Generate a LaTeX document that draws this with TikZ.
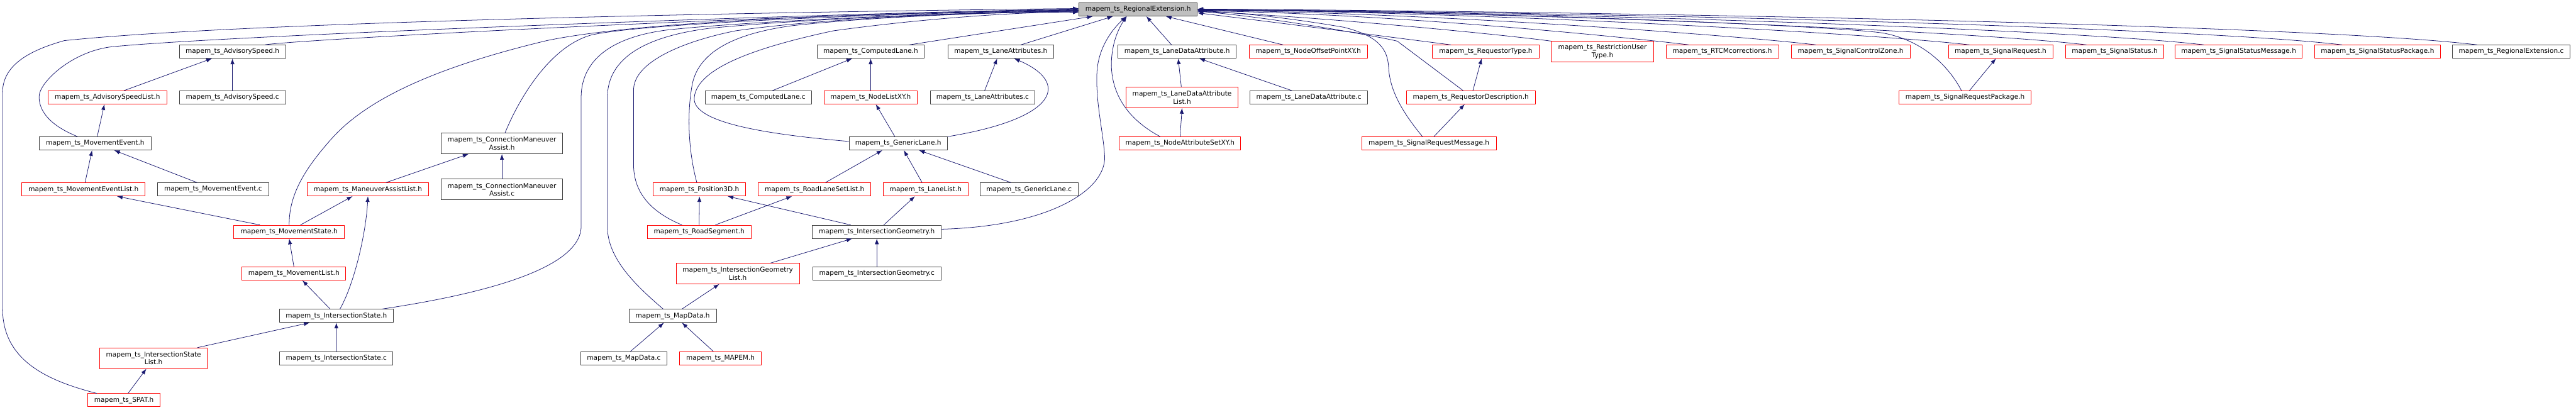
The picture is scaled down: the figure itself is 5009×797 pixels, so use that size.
\documentclass[tikz,border=0pt]{standalone}
\usepackage{fontspec}
\setmainfont{DejaVu Sans}
\usetikzlibrary{arrows.meta}
\definecolor{edgeblue}{HTML}{191970}
\definecolor{boxgray}{HTML}{BFBFBF}
\definecolor{boxline}{HTML}{404040}

\begin{document}
\begin{tikzpicture}[x=1pt,y=-1pt,>={Latex[length=11pt,width=8pt]},
    file/.style={draw=boxline,line width=1.1pt,inner sep=0pt,minimum height=25.5pt,align=center,font=\fontsize{12.9}{15}\selectfont},
    trunc/.style={file,draw=red},
    root/.style={file,fill=boxgray},
    twoline/.style={minimum height=40pt},
    dep/.style={->,draw=edgeblue,line width=0.95pt}]
    \useasboundingbox (0,0) rectangle (5009,797);

    % row 0
    \node[root,minimum width=230pt] (re) at (2213,18.5) {mapem\_ts\_RegionalExtension.h};
    % row 1
    \node[file,minimum width=207pt] (advSpeed) at (452,100.5) {mapem\_ts\_AdvisorySpeed.h};
    \node[file,minimum width=208pt] (computedLane) at (1693,100.5) {mapem\_ts\_ComputedLane.h};
    \node[file,minimum width=206pt] (laneAttr) at (1946,100.5) {mapem\_ts\_LaneAttributes.h};
    \node[file,minimum width=230pt] (laneDataAttr) at (2289,100.5) {mapem\_ts\_LaneDataAttribute.h};
    \node[trunc,minimum width=230pt] (nodeOffset) at (2544,100.5) {mapem\_ts\_NodeOffsetPointXY.h};
    \node[trunc,minimum width=207pt] (reqType) at (2889,100.5) {mapem\_ts\_RequestorType.h};
    \node[trunc,twoline,minimum width=199pt] (restrUser) at (3116,100.5) {mapem\_ts\_RestrictionUser\\Type.h};
    \node[trunc,minimum width=219pt] (rtcm) at (3349,100.5) {mapem\_ts\_RTCMcorrections.h};
    \node[trunc,minimum width=231pt] (sigCtrlZone) at (3598.5,100.5) {mapem\_ts\_SignalControlZone.h};
    \node[trunc,minimum width=203pt] (sigReq) at (3890,100.5) {mapem\_ts\_SignalRequest.h};
    \node[trunc,minimum width=190pt] (sigStatus) at (4112,100.5) {mapem\_ts\_SignalStatus.h};
    \node[trunc,minimum width=247pt] (sigStatusMsg) at (4353,100.5) {mapem\_ts\_SignalStatusMessage.h};
    \node[trunc,minimum width=244pt] (sigStatusPkg) at (4623,100.5) {mapem\_ts\_SignalStatusPackage.h};
    \node[file,minimum width=228pt] (reC) at (4883,100.5) {mapem\_ts\_RegionalExtension.c};
    % row 2
    \node[trunc,minimum width=231pt] (advSpeedList) at (209,189.5) {mapem\_ts\_AdvisorySpeedList.h};
    \node[file,minimum width=207pt] (advSpeedC) at (452,189.5) {mapem\_ts\_AdvisorySpeed.c};
    \node[file,minimum width=207pt] (computedLaneC) at (1474.5,189.5) {mapem\_ts\_ComputedLane.c};
    \node[trunc,minimum width=182pt] (nodeListXY) at (1693,189.5) {mapem\_ts\_NodeListXY.h};
    \node[file,minimum width=204pt] (laneAttrC) at (1910.6,189.5) {mapem\_ts\_LaneAttributes.c};
    \node[trunc,twoline,minimum width=218pt] (laneDataAttrList) at (2298.5,189.5) {mapem\_ts\_LaneDataAttribute\\List.h};
    \node[file,minimum width=229pt] (laneDataAttrC) at (2545,189.5) {mapem\_ts\_LaneDataAttribute.c};
    \node[trunc,minimum width=251pt] (reqDesc) at (2860,189.5) {mapem\_ts\_RequestorDescription.h};
    \node[trunc,minimum width=256pt] (sigReqPkg) at (3821,189.5) {mapem\_ts\_SignalRequestPackage.h};
    % row 3
    \node[file,minimum width=217pt] (movEvent) at (185,279) {mapem\_ts\_MovementEvent.h};
    \node[file,twoline,minimum width=236pt] (cmaH) at (976,279) {mapem\_ts\_ConnectionManeuver\\Assist.h};
    \node[file,minimum width=191pt] (genericLane) at (1746.5,279) {mapem\_ts\_GenericLane.h};
    \node[trunc,minimum width=236pt] (nodeAttrSet) at (2294.6,279) {mapem\_ts\_NodeAttributeSetXY.h};
    \node[trunc,minimum width=262pt] (sigReqMsg) at (2778.6,279) {mapem\_ts\_SignalRequestMessage.h};
    % row 4
    \node[trunc,minimum width=240pt] (movEventList) at (162.4,368.4) {mapem\_ts\_MovementEventList.h};
    \node[file,minimum width=216pt] (movEventC) at (414.4,368.4) {mapem\_ts\_MovementEvent.c};
    \node[trunc,minimum width=237pt] (manAssistList) at (715.4,368.4) {mapem\_ts\_ManeuverAssistList.h};
    \node[file,twoline,minimum width=236pt] (cmaC) at (976,368.4) {mapem\_ts\_ConnectionManeuver\\Assist.c};
    \node[trunc,minimum width=180pt] (position3D) at (1360,368.4) {mapem\_ts\_Position3D.h};
    \node[trunc,minimum width=219pt] (roadLaneSetList) at (1584,368.4) {mapem\_ts\_RoadLaneSetList.h};
    \node[trunc,minimum width=165pt] (laneList) at (1800,368.4) {mapem\_ts\_LaneList.h};
    \node[file,minimum width=191pt] (genericLaneC) at (2001,368.4) {mapem\_ts\_GenericLane.c};
    % row 5
    \node[trunc,minimum width=215pt] (movState) at (562.3,450.7) {mapem\_ts\_MovementState.h};
    \node[trunc,minimum width=202pt] (roadSegment) at (1359.5,450.7) {mapem\_ts\_RoadSegment.h};
    \node[file,minimum width=251pt] (interGeom) at (1705,450.7) {mapem\_ts\_IntersectionGeometry.h};
    % row 6
    \node[trunc,minimum width=202pt] (movList) at (571.5,532) {mapem\_ts\_MovementList.h};
    \node[trunc,twoline,minimum width=240pt] (interGeomList) at (1434.6,532) {mapem\_ts\_IntersectionGeometry\\List.h};
    \node[file,minimum width=250pt] (interGeomC) at (1705,532) {mapem\_ts\_IntersectionGeometry.c};
    % row 7
    \node[file,minimum width=221pt] (interState) at (654,614.3) {mapem\_ts\_IntersectionState.h};
    \node[file,minimum width=170pt] (mapData) at (1308,614.3) {mapem\_ts\_MapData.h};
    % row 8
    \node[trunc,twoline,minimum width=209pt] (interStateList) at (298.6,696.6) {mapem\_ts\_IntersectionState\\List.h};
    \node[file,minimum width=220pt] (interStateC) at (654,696.6) {mapem\_ts\_IntersectionState.c};
    \node[file,minimum width=168pt] (mapDataC) at (1213,696.6) {mapem\_ts\_MapData.c};
    \node[trunc,minimum width=159pt] (mapem) at (1401,696.6) {mapem\_ts\_MAPEM.h};
    % row 9
    \node[trunc,minimum width=140pt] (spat) at (241,778.2) {mapem\_ts\_SPAT.h};

    % into the header from the left
    \draw[dep] ([xshift=-53pt]spat.north) .. controls (90,740) and (5,700) .. (5,600) -- (5,180)
        .. controls (5,130) and (50,100) .. (125,79) .. controls (500,40) and (1600,22) .. ([yshift=2pt]re.west);
    \draw[dep] ([xshift=-34pt]movEvent.north) .. controls (95,243) and (76,215) .. (76,188)
        .. controls (76,160) and (140,100) .. (217,91) .. controls (450,68) and (1600,26) .. ([yshift=1pt]re.west);
    \draw[dep] ([xshift=63pt]advSpeed.north) .. controls (560,78) and (1500,28) .. (re.west);
    \draw[dep] (movState.north) .. controls (562,380) and (590,330) .. (650,264)
        .. controls (720,190) and (850,130) .. (1063,79) .. controls (1250,40) and (1700,25) .. ([yshift=-1pt]re.west);
    \draw[dep] ([xshift=6pt]cmaH.north) .. controls (1010,190) and (1070,90) .. (1150,68)
        .. controls (1250,45) and (1750,25) .. ([yshift=-1.5pt]re.west);
    \draw[dep] ([xshift=88.5pt]interState.north) .. controls (950,570) and (1130,520) .. (1130,440) -- (1130,190)
        .. controls (1130,110) and (1200,70) .. (1300,58) .. controls (1450,42) and (1800,26) .. ([yshift=-2pt]re.west);
    \draw[dep] ([xshift=-18.4pt]mapData.north) .. controls (1230,550) and (1181,500) .. (1181,440) -- (1181,190)
        .. controls (1181,110) and (1260,70) .. (1380,55) .. controls (1550,38) and (1850,25) .. ([yshift=-3pt]re.west);
    \draw[dep] ([xshift=-33.5pt]roadSegment.north) .. controls (1260,410) and (1232,370) .. (1232,320) -- (1232,175)
        .. controls (1232,120) and (1330,80) .. (1430,60) .. controls (1600,35) and (1900,24) .. ([yshift=-3.5pt]re.west);
    \draw[dep] ([xshift=-5pt]position3D.north) .. controls (1340,300) and (1335,230) .. (1345,170)
        .. controls (1355,100) and (1430,65) .. (1540,50) .. controls (1700,32) and (1950,23) .. ([yshift=-4.5pt]re.west);
    \draw[dep] ([yshift=4pt]genericLane.west) .. controls (1500,262) and (1345,240) .. (1350,190)
        .. controls (1355,130) and (1480,90) .. (1620,60) .. controls (1800,35) and (2000,22) .. ([yshift=-5.5pt]re.west);

    % into the header from below
    \draw[dep] ([xshift=75pt]computedLane.north) -- ([xshift=-88pt]re.south);
    \draw[dep] ([xshift=39pt]laneAttr.north) -- ([xshift=-49pt]re.south);
    \draw[dep] ([yshift=5pt]interGeom.east) .. controls (2040,440) and (2150,370) .. (2148,305)
        .. controls (2146,260) and (2130,200) .. (2133,140) .. controls (2136,90) and (2165,55) .. ([xshift=-23pt]re.south);
    \draw[dep] ([xshift=-38.6pt]nodeAttrSet.north) .. controls (2180,225) and (2162,170) .. (2161,127)
        .. controls (2161,85) and (2175,55) .. ([xshift=-22pt]re.south);
    \draw[dep] ([xshift=-11pt]laneDataAttr.north) -- ([xshift=16pt]re.south);
    \draw[dep] ([xshift=-49pt]nodeOffset.north) -- ([xshift=54pt]re.south);

    % into the header from the right
    \draw[dep] ([xshift=-68pt]reqType.north) .. controls (2790,83) and (2500,46) .. ([yshift=-6.5pt]re.east);
    \draw[dep] ([xshift=-15pt]reqDesc.north) -- (2717,80) .. controls (2680,71) and (2470,33) .. ([yshift=-3.5pt]re.east);
    \draw[dep] ([xshift=-12.6pt]sigReqMsg.north) .. controls (2720,210) and (2702,170) .. (2700,130)
        .. controls (2698,95) and (2680,70) .. (2613,53) .. controls (2520,37) and (2420,25) .. ([yshift=-2.5pt]re.east);
    \draw[dep] (restrUser.north west) .. controls (2930,68) and (2560,32) .. ([yshift=-3.5pt]re.east);
    \draw[dep] ([xshift=-65pt]rtcm.north) .. controls (3169,73) and (2701,26) .. ([yshift=-2.5pt]re.east);
    \draw[dep] ([xshift=-67.5pt]sigCtrlZone.north) .. controls (3387,70) and (2797,25) .. ([yshift=-1.5pt]re.east);
    \draw[dep] ([xshift=-60.5pt]sigReq.north) .. controls (3649,66) and (2913,24) .. ([yshift=-0.5pt]re.east);
    \draw[dep] ([xshift=-7pt]sigReqPkg.north) .. controls (3790,130) and (3740,78) .. (3660,64)
        .. controls (3560,50) and (2900,22) .. ([yshift=-1pt]re.east);
    \draw[dep] ([xshift=-55pt]sigStatus.north) .. controls (3850,62) and (3002,24) .. ([yshift=-0.5pt]re.east);
    \draw[dep] ([xshift=-67.5pt]sigStatusMsg.north) .. controls (4050,59) and (3091,24) .. (re.east);
    \draw[dep] ([xshift=-69pt]sigStatusPkg.north) .. controls (4287,55) and (3196,24) .. (re.east);
    \draw[dep] ([xshift=-66pt]reC.north) .. controls (4518,51) and (3299,24) .. ([yshift=1pt]re.east);

    % the other includes
    \draw[dep] ([xshift=32pt]advSpeedList.north) -- ([xshift=-40pt]advSpeed.south);
    \draw[dep] (advSpeedC.north) -- (advSpeed.south);
    \draw[dep] ([xshift=4pt]movEvent.north) -- ([xshift=-6pt]advSpeedList.south);
    \draw[dep] ([xshift=3pt]movEventList.north) -- ([xshift=-6pt]movEvent.south);
    \draw[dep] ([xshift=-31pt]movEventC.north) -- ([xshift=37pt]movEvent.south);
    \draw[dep] ([xshift=-57pt]movState.north) -- ([xshift=65pt]movEventList.south);
    \draw[dep] ([xshift=22pt]movState.north) -- ([xshift=-30pt]manAssistList.south);
    \draw[dep] (movList.north) -- (movState.south);
    \draw[dep] ([xshift=-12pt]interState.north) -- ([xshift=16.5pt]movList.south);
    \draw[dep] ([xshift=7pt]interState.north) .. controls (690,550) and (712,450) .. (manAssistList.south);
    \draw[dep] ([xshift=85pt]interStateList.north) -- ([xshift=-52pt]interState.south);
    \draw[dep] (interStateC.north) -- (interState.south);
    \draw[dep] ([xshift=8pt]spat.north) -- ([xshift=-14pt]interStateList.south);
    \draw[dep] ([xshift=35pt]manAssistList.north) -- ([xshift=-65pt]cmaH.south);
    \draw[dep] (cmaC.north) -- (cmaH.south);
    \draw[dep] ([xshift=27.5pt]computedLaneC.north) -- ([xshift=-36pt]computedLane.south);
    \draw[dep] (nodeListXY.north) -- (computedLane.south);
    \draw[dep] ([xshift=4pt]laneAttrC.north) -- ([xshift=-7pt]laneAttr.south);
    \draw[dep] ([xshift=-6.5pt]genericLane.north) -- ([xshift=10pt]nodeListXY.south);
    \draw[dep] (genericLane.north east) .. controls (2060,230) and (2080,160) .. ([xshift=26pt]laneAttr.south);
    \draw[dep] ([xshift=21pt]roadLaneSetList.north) -- ([xshift=-31pt]genericLane.south);
    \draw[dep] ([xshift=-7pt]laneList.north) -- ([xshift=11pt]genericLane.south);
    \draw[dep] ([xshift=-35pt]genericLaneC.north) -- ([xshift=40.5pt]genericLane.south);
    \draw[dep] (roadSegment.north) -- (position3D.south);
    \draw[dep] ([xshift=31.5pt]roadSegment.north) -- ([xshift=-44pt]roadLaneSetList.south);
    \draw[dep] ([xshift=-51pt]interGeom.north) -- ([xshift=55pt]position3D.south);
    \draw[dep] ([xshift=13.5pt]interGeom.north) -- ([xshift=-21pt]laneList.south);
    \draw[dep] ([xshift=64pt]interGeomList.north) -- ([xshift=-48pt]interGeom.south);
    \draw[dep] (interGeomC.north) -- (interGeom.south);
    \draw[dep] ([xshift=18pt]mapData.north) -- ([xshift=-36pt]interGeomList.south);
    \draw[dep] ([xshift=13pt]mapDataC.north) -- ([xshift=-17pt]mapData.south);
    \draw[dep] ([xshift=-14pt]mapem.north) -- ([xshift=18pt]mapData.south);
    \draw[dep] ([xshift=-1.5pt]laneDataAttrList.north) -- ([xshift=2pt]laneDataAttr.south);
    \draw[dep] (nodeAttrSet.north) -- (laneDataAttrList.south);
    \draw[dep] ([xshift=-33pt]laneDataAttrC.north) -- ([xshift=43pt]laneDataAttr.south);
    \draw[dep] ([xshift=4pt]reqDesc.north) -- ([xshift=-8pt]reqType.south);
    \draw[dep] ([xshift=9.5pt]sigReqMsg.north) -- ([xshift=-12pt]reqDesc.south);
    \draw[dep] ([xshift=8.5pt]sigReqPkg.north) -- ([xshift=-9pt]sigReq.south);
\end{tikzpicture}
\end{document}
